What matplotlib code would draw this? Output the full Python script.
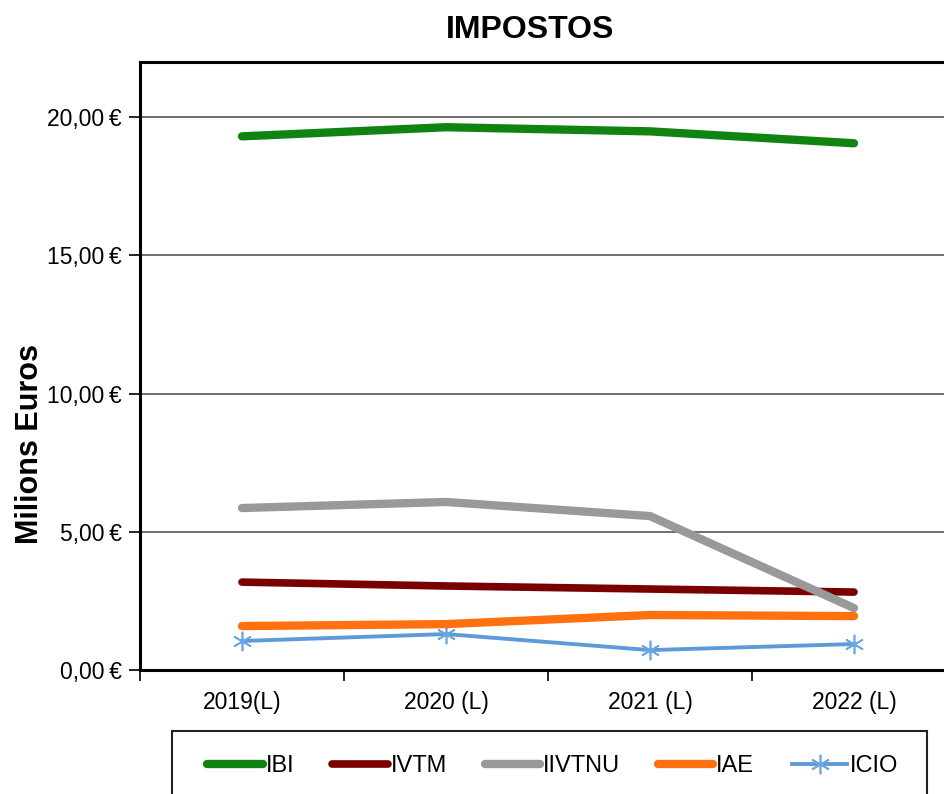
import matplotlib
matplotlib.use("Agg")
import matplotlib.pyplot as plt
from matplotlib.patches import Rectangle
from matplotlib.ticker import FuncFormatter

plt.rcParams['font.family'] = ['Liberation Sans', 'DejaVu Sans']

categories = ["2019(L)", "2020 (L)", "2021 (L)", "2022 (L)"]
IBI = [19.31, 19.64, 19.49, 19.06]
IVTM = [3.18, 3.04, 2.93, 2.82]
IIVTNU = [5.86, 6.08, 5.57, 2.24]
IAE = [1.59, 1.66, 1.99, 1.95]
ICIO = [1.05, 1.30, 0.72, 0.94]
yticks = [0, 5, 10, 15, 20]

W, H = 944, 794
fig = plt.figure(figsize=(W / 100, H / 100), dpi=100)
ax = fig.add_axes([140 / W, 1 - 670 / H, 816 / W, (670 - 62) / H])

x = list(range(len(categories)))
ax.plot(x, IBI, color="#118311", lw=6, solid_capstyle="round", label="IBI", zorder=5)
ax.plot(x, IVTM, color="#7a0000", lw=5.5, solid_capstyle="round", label="IVTM", zorder=4)
ax.plot(x, IIVTNU, color="#999999", lw=6, solid_capstyle="round", label="IIVTNU", zorder=6)
ax.plot(x, IAE, color="#ff7110", lw=6, solid_capstyle="round", label="IAE", zorder=3)
ax.plot(x, ICIO, color="#5f9ad8", lw=2.8, marker=(6, 2, 0), ms=14, mew=1.2,
        mec="#6aa6e0", label="ICIO", zorder=2)

ax.set_xlim(-0.5, 3.5)
ax.set_ylim(0, 22)
ax.set_yticks(yticks)
ax.yaxis.set_major_formatter(FuncFormatter(lambda v, p: f"{v:.2f}".replace(".", ",") + "\u2009€"))
ax.grid(axis="y", color="#555555", lw=1.2, zorder=0)
ax.set_axisbelow(True)

ax.set_xticks([-0.5, 0.5, 1.5, 2.5, 3.5])
ax.set_xticklabels([])
ax.set_xticks(x, minor=True)
ax.set_xticklabels(categories, minor=True)
ax.tick_params(axis="x", which="minor", length=0, pad=15, labelsize=16.5)
ax.tick_params(axis="x", which="major", length=8, width=1.2, direction="out")
ax.tick_params(axis="y", length=8, width=1.2, direction="out", pad=5, labelsize=16.5)

for s in ["left", "bottom", "top"]:
    ax.spines[s].set_linewidth(2.2)
ax.spines["right"].set_visible(False)

fig.text(530 / W, 1 - 30 / H, "IMPOSTOS", fontsize=23, fontweight="bold", ha="center", va="center")
ax.set_ylabel("Milions Euros", fontsize=22, fontweight="bold")
ax.yaxis.set_label_coords(-0.1164, (670 - 444) / 608)

fig.patches.append(Rectangle((172 / W, -0.05), (927 - 172) / W, 0.05 + 1 - 731 / H,
                             transform=fig.transFigure, fill=False, ec="#222222", lw=1.5))
leg = fig.legend(loc="center", bbox_to_anchor=(553 / W, 1 - 766 / H), ncol=5, frameon=False,
                 fontsize=17, handlelength=2.35, handletextpad=0.12, columnspacing=1.6)

fig.savefig("out.png", dpi=100)
